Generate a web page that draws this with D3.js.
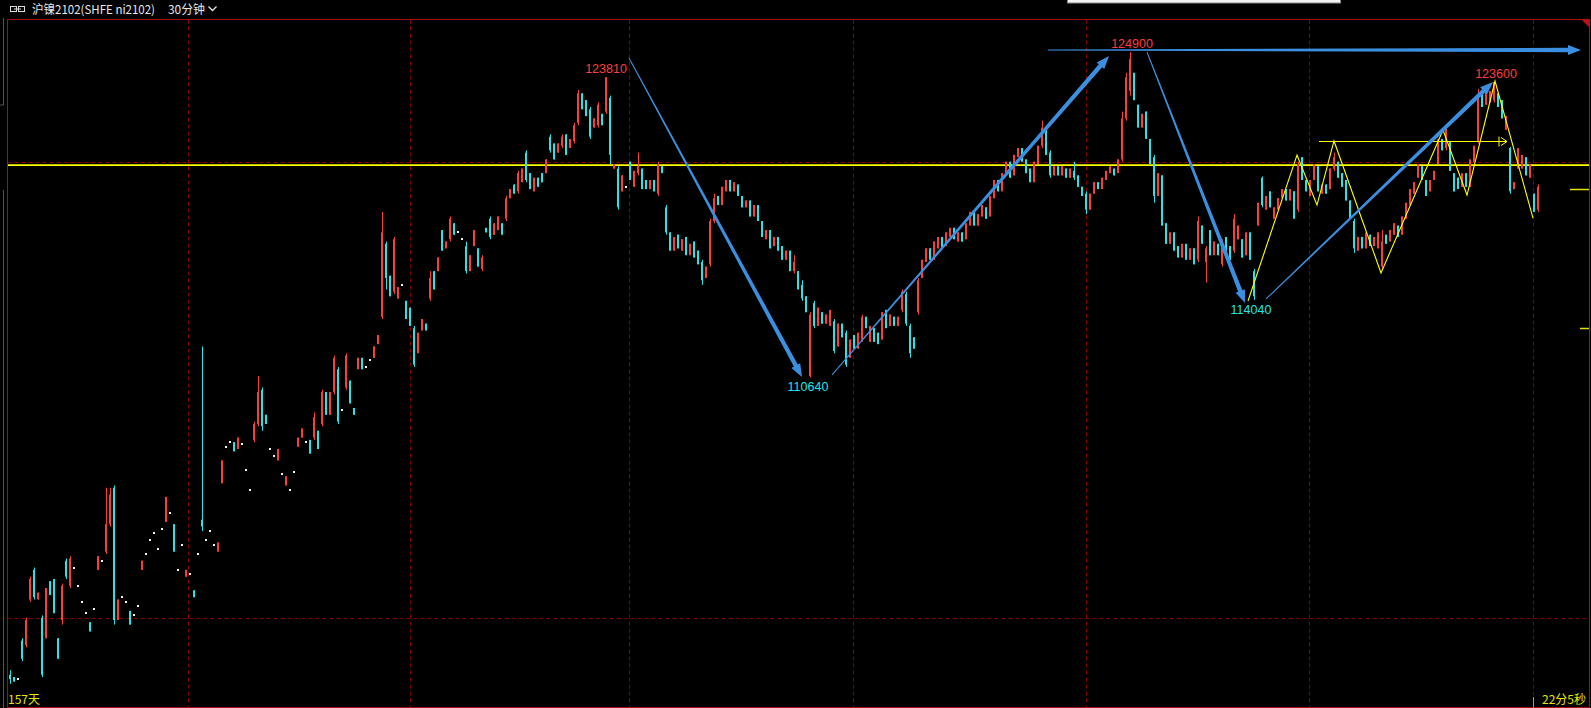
<!DOCTYPE html>
<html><head><meta charset="utf-8">
<script src="https://cdn.jsdelivr.net/npm/d3@7"></script>
<style>html,body{margin:0;padding:0;background:#000;overflow:hidden}</style>
</head><body><svg id="c" width="1591" height="708"></svg>
<script>
// ---------------- data ----------------
const titleText = "沪镍2102(SHFE ni2102)";
const periodText = "30分钟";
const daysText = "157天";
const timerText = "22分5秒";

// each bar: [open, close] or [open, close, high, low]  (30-minute bars, CNY/t)
const bars = [
[97600,97400,97800,97200],[97500,97300],[97400,97400],[99100,98300,99200,98200],[98900,100000,100100,98800],
[100900,101800,101900,100800],[102200,101000,102300,100900],[100900,101200],[100100,97600,100200,97500],[99200,101400],
[101700,101100],[101800,100300],[99200,98300],[100000,101500,101600,99800],[102600,101900,102700,101800],
[101500,102700,102800,101400],[102300,102300],[101500,101500],[100800,100800],[100300,100300],
[99900,99500],[100500,100500],[102200,102800],[102600,102600],[103000,104200,105800,102900],
[104200,105500,105800,104100],[105800,100000,105900,99800],[100000,100900],[101000,101000],[100800,100800],
[100400,99800],[100200,100200],[100600,100600],[102200,102600],[102900,102900],
[103500,103500],[103800,103800],[103100,103100],[104000,104000],[104300,105400],
[104700,104700],[104200,103000],[102200,102200],[103300,103300],[101900,102200],
[102000,102000],[101300,101000],[102900,102900],[104400,104100,112000,103900],[103500,103500],
[103900,103900],[103300,103300],[103000,103400],[106000,107000],[107600,107600],
[107800,107800],[107800,107400],[107500,108000],[107700,107700],[106600,106600],
[105700,105700],[107900,108600,108700,107800],[108600,110000,110700,108500],[110100,108500,110200,108300],[109000,108600],
[107500,107500],[107200,107200],[107000,107500],[106400,106400],[105900,106300],
[105700,105700],[106500,106500],[107600,108000],[108000,108400],[107800,107800],
[107900,107300],[108000,108900,109100,107900],[108300,107500],[108600,110000,110100,108500],[110000,109000],
[109000,110000],[110000,111500,111600,109900],[111000,108700,111100,108600],[109200,109200],[110200,111600,111700,110100],
[110500,109500],[109300,109000],[111000,111500],[111500,111000],[111100,111100],
[111400,111400],[111500,112000],[112100,112500],[113300,117000,117900,113200],[116500,115000,116600,114500],
[115100,114200],[114400,116700,116800,114300],[114100,114600],[114700,114700],[114000,113200],
[113700,112900],[112800,111200,112900,111100],[111700,112600],[112700,113200],[113000,112700],
[114100,115000,115300,114000],[115300,114500],[115300,115900],[117100,116200],[116300,116600],
[116700,117600,117700,116600],[117400,116900],[117000,117000],[116700,116700],[116400,115300,116600,115200],
[115300,116000],[116400,117100],[116300,115500],[115400,115900,116000,115300],[117200,117000],
[117600,116800,117700,116700],[116900,117400],[117100,117700],[117400,116900],[117600,118500,118600,117500],
[118500,118900],[119100,118700],[118800,119600,119700,118700],[119200,119800],[120500,119300,120600,119200],
[119600,118900],[118800,119400],[119400,119000],[119600,119200],[119600,120200],
[121200,120600,121300,120500],[120900,120200],[120500,120900],[120800,121200,121300,120700],[121300,120400],
[120700,121100],[121000,121700,121800,120900],[121800,123100,123250,121700],[123100,122400],[122800,122100],
[122400,121200,122500,121100],[121600,122000],[121700,122600,122700,121600],[122200,121700],[122300,123800,123810,122200],
[122900,120400,123000,120000],[119800,120000],[119800,118100,119900,118000],[118800,119500],[119000,119000],
[120100,119300],[119000,119700],[119600,119900,120500,119500],[119800,118900],[119300,118900],
[118900,119300],[119300,118800],[118700,120000,120100,118600],[119900,119600],[118100,117000,118200,116900],
[117000,116200],[116200,116800],[116900,116300],[116200,116700],[116800,116000],
[116000,116500],[116600,115900],[116200,115600],[115700,114900,115800,114700],[115000,115500],
[115600,117500,117600,115500],[117500,118500,118700,117400],[118600,118200],[118200,119000],[118800,119300],
[119300,118800],[118800,119200],[119100,118600],[118600,118100],[118100,118400],
[118400,117700],[117700,118200],[118200,117500],[117500,116800],[116700,117100],
[117100,116300],[116400,116800],[116800,116200],[116400,115800],[115800,116200],
[116200,115300],[115300,115700,116000,115200],[115300,114500],[114700,114100,114900,114000],[114200,113500],
[110700,113400,113500,110640],[113900,112900,114000,112800],[112900,113700],[113500,113000],[113000,113400],
[112900,113600],[113100,111800,113200,111700],[112000,113000],[113000,112400],[112600,111200,112700,111100],
[111500,112300],[112500,111900],[111900,112600],[112300,113300,113400,112200],[113300,112800],
[112200,112900],[112800,112200],[112600,112100],[112300,113500],[113600,112800],
[112900,113400],[113300,112900],[112900,113300],[113600,114400,114500,113500],[114300,113000,114400,112900],
[112900,111700,113000,111500],[112400,111900],[113500,114900,115000,113400],[115000,115800],[115700,116300],
[116300,115800],[115800,116600],[116300,116800],[116800,116300],[116400,117000],
[116800,117200],[117200,116700],[116600,117000],[117000,116600],[116700,117400],
[117300,117900],[117900,117300],[117300,117800],[117700,118200],[118100,117600],
[117700,118600],[118500,119300],[119300,118800],[118800,119600],[119500,120100],
[120100,119400],[119500,120400],[120300,120700],[120700,120100],[120200,119600],
[119800,119200],[119200,120100],[120000,120800],[120800,121600,121900,120700],[121500,120400],
[120500,119500,120600,119400],[119500,119900],[119900,119500],[119500,119900],[119800,119400],
[119400,119800],[119700,119400,120100,119300],[119500,119000],[119000,118600],[118700,118000,118800,117800],
[118000,118700],[118700,119200],[119200,118900],[118900,119400],[119300,119700],
[119600,119900],[119800,119500],[119600,120200],[120200,122000,122300,120100],[122000,123800,124000,121900],
[123200,124600,124900,123000],[124000,122800],[122600,121600],[121600,122200],[122300,121100],
[121100,120000],[120300,118600,120400,118300],[118600,119600],[119500,117300],[117400,116500],
[116500,117000],[117000,116200],[116400,115900],[115900,116500],[116500,115800],
[115800,116300],[116300,115600],[115800,117500,117700,115700],[117300,116500],[115700,116300,116400,114800],
[117100,116000],[116000,116600],[116500,116000],[115600,116600,116700,115500],[116800,116100],
[116400,115800],[116200,117600,117800,116100],[116700,117300],[116700,115900],[116000,117000],
[117000,115800],[115300,114200,115400,114040],[117300,118300],[119400,118200,119450,118100],[118000,118600],
[118800,118100],[117600,118100],[118000,118500],[118500,118900],[118900,118400],
[118400,118900],[118800,117600],[118000,120000,120100,117900],[120300,119300],[119300,118800],
[118600,119300],[119300,120000],[119900,118800],[118700,119100],[119100,118700],
[118900,119800],[119800,120300,120500,119700],[120100,119400],[119600,119000],[119300,118400],
[118400,117600],[117500,116300,117600,116100],[116200,116800],[116800,116300],[116300,117000],
[116900,116400],[116400,116800],[116300,117000],[115500,116600,117100,115400],[116900,116500],
[116600,117100],[116900,117400],[117300,116800],[116900,117700],[117600,118300],
[118200,118900],[118700,119200],[119400,120000],[119900,119300],[119300,118600],
[118800,119300],[119300,119700],[120000,121100],[121100,120600],[120700,121600,121700,120600],
[121000,119700],[119600,118800],[119400,118900],[119000,119600],[119600,119000],
[119000,120200],[120100,120800],[121000,123000,123300,120900],[123100,122500],[122600,123200],
[122700,123200],[122800,123600,123600,122700],[123100,122500],[122800,122000],[121500,122100],
[120700,118800,120750,118700],[118900,119200],[119800,120700],[119800,120400],[120300,119500],
[119400,120000],[118700,117900],[118000,119000,119100,117900]
];

const gridPrices = [100000, 120000];
const gridBars = [44.5, 100, 154.75, 210.75, 269, 324.75, 380.75];
const alertPrice = 119950;
const sideMarks = [118900, 112810];

const extremeLabels = [
  {i: 149, p: 123810, text: "123810", kind: "high"},
  {i: 280.5, p: 124900, text: "124900", kind: "high"},
  {i: 371.5, p: 123600, text: "123600", kind: "high"},
  {i: 199.5, p: 110640, text: "110640", kind: "low"},
  {i: 310.25, p: 114040, text: "114040", kind: "low"}
];

// trend arrows: [bar index, price]
const arrows = [
  {from: [154.75, 124650], to: [198, 110660]},
  {from: [205.5, 110750], to: [274.75, 124740]},
  {from: [259.5, 125000], to: [392.75, 125000]},
  {from: [284.25, 124910], to: [308.75, 113900]},
  {from: [314, 114080], to: [370.75, 123600]}
];

const zigzag = [[309.5,113990],[321.75,120390],[326.75,118200],[331,121010],[342.75,115220],
  [358.25,121490],[364.25,118640],[371.25,123640],[380.75,117630]];
const flatLine = {from: [327.25, 121010], to: [374.25, 121010]};

// ---------------- drawing ----------------
const svg = d3.select("#c");
const W = 1591, H = 708;
const L = 7.5, T = 19.5, R = 1589.5, B = 707.5;
const RED = "#ff3c3c", CYAN = "#1ee8e8", GRID = "#8a0000", BORDER = "#a81010";
const BLUE = "#3b8fe0", YEL = "#ffff00";

svg.append("rect").attr("width", W).attr("height", H).attr("fill", "#000");

const x = d3.scaleLinear().domain([0, bars.length - 1]).range([10, 1538]);
const y = d3.scaleLinear().domain([100000, 120000]).range([620, 164]);

// left gray panel edge
svg.append("path").attr("d", "M3.5,18V105H0M3.5,190V708").attr("stroke", "#555").attr("fill", "none");

// grid
const g = svg.append("g");
g.selectAll(".hg").data(gridPrices).join("line")
  .attr("x1", L).attr("x2", R)
  .attr("y1", d => Math.round(y(d)) - 1.5).attr("y2", d => Math.round(y(d)) - 1.5)
  .attr("stroke", GRID).attr("stroke-dasharray", "4,3");
g.selectAll(".vg").data(gridBars).join("line")
  .attr("x1", d => Math.round(x(d)) + 0.5).attr("x2", d => Math.round(x(d)) + 0.5)
  .attr("y1", T).attr("y2", B)
  .attr("stroke", GRID).attr("stroke-dasharray", "4,3");

// alert line
svg.append("line").attr("x1", L).attr("x2", R)
  .attr("y1", y(alertPrice)).attr("y2", y(alertPrice))
  .attr("stroke", YEL).attr("stroke-width", 1.6);

// candles
const cg = svg.append("g");
bars.forEach((b, i) => {
  const [o, c] = b;
  const h = b.length > 2 ? b[2] : Math.max(o, c);
  const l = b.length > 3 ? b[3] : Math.min(o, c);
  const xc = Math.round(x(i));
  if (o === c) {
    if (h !== l) {
      cg.append("rect").attr("x", xc).attr("y", y(h)).attr("width", 1)
        .attr("height", Math.max(1, y(l) - y(h))).attr("fill", "#ddd");
    }
    cg.append("rect").attr("x", xc - 1).attr("y", Math.round(y(o)) - 1)
      .attr("width", 2).attr("height", 2).attr("fill", "#f0f0f0");
    return;
  }
  const col = c > o ? RED : CYAN;
  cg.append("rect").attr("x", xc).attr("y", y(h)).attr("width", 1)
    .attr("height", Math.max(1, y(l) - y(h))).attr("fill", col);
  const top = y(Math.max(o, c)), bot = y(Math.min(o, c));
  cg.append("rect").attr("x", xc - 1).attr("y", top).attr("width", 2)
    .attr("height", Math.max(1, bot - top)).attr("fill", col);
});

// yellow zigzag
const line = d3.line().x(d => x(d[0])).y(d => y(d[1]));
svg.append("path").attr("d", line(zigzag)).attr("fill", "none")
  .attr("stroke", YEL).attr("stroke-width", 1.1);
// flat yellow line with chevron
{
  const x1 = x(flatLine.from[0]), x2 = x(flatLine.to[0]), yy = Math.round(y(flatLine.from[1])) + 0.5;
  svg.append("line").attr("x1", x1).attr("x2", x2).attr("y1", yy).attr("y2", yy)
    .attr("stroke", YEL).attr("stroke-width", 1);
  svg.append("path").attr("d", `M${x2 - 6},${yy - 4}L${x2},${yy}L${x2 - 6},${yy + 4}M${x2 - 8},${yy - 5}V${yy + 5}`)
    .attr("stroke", YEL).attr("fill", "none").attr("stroke-width", 1);
}

// tapered blue arrows
function arrowPoly(x1, y1, x2, y2, w0, w1, hl, hw) {
  const dx = x2 - x1, dy = y2 - y1, len = Math.hypot(dx, dy);
  const ux = dx / len, uy = dy / len, nx = -uy, ny = ux;
  const bx = x2 - ux * hl, by = y2 - uy * hl;
  const p = (px, py, w) => [px + nx * w / 2, py + ny * w / 2];
  const q = (px, py, w) => [px - nx * w / 2, py - ny * w / 2];
  return [p(x1, y1, w0), p(bx, by, w1), p(bx, by, hw), [x2, y2], q(bx, by, hw), q(bx, by, w1), q(x1, y1, w0)];
}
svg.selectAll(".arrow").data(arrows).join("polygon")
  .attr("points", d => arrowPoly(x(d.from[0]), y(d.from[1]), x(d.to[0]), y(d.to[1]), 1, 4.5, 13, 10).map(p => p.join(",")).join(" "))
  .attr("fill", BLUE);

// extreme labels
svg.selectAll(".lab").data(extremeLabels).join("text")
  .attr("x", d => x(d.i))
  .attr("y", d => d.kind === "high" ? y(d.p) - 4 : y(d.p) + 14)
  .attr("text-anchor", "middle")
  .attr("font-family", "Liberation Sans, Arial, sans-serif").attr("font-size", 12.5)
  .attr("fill", d => d.kind === "high" ? RED : CYAN)
  .text(d => d.text);

// right side markers
svg.selectAll(".sm").data(sideMarks).join("line")
  .attr("x1", (d, i) => i === 0 ? 1570 : 1580).attr("x2", R)
  .attr("y1", d => Math.round(y(d)) + 0.5).attr("y2", d => Math.round(y(d)) + 0.5)
  .attr("stroke", "#e0e000").attr("stroke-width", 1.5);

// borders
svg.append("path").attr("d", `M${L},${B}V${T}H${R}V${B}H${L}`)
  .attr("stroke", BORDER).attr("fill", "none");
svg.append("polygon").attr("points", `${R - 8},${T} ${R},${T} ${R},${T + 8}`).attr("fill", "#c01010");
svg.append("line").attr("x1", Math.round(x(gridBars[6])) + 0.5).attr("x2", Math.round(x(gridBars[6])) + 0.5)
  .attr("y1", 697).attr("y2", B).attr("stroke", "#999");

// top white box
svg.append("rect").attr("x", 1067.5).attr("y", -1).attr("width", 273).attr("height", 4)
  .attr("fill", "#f4f4f4").attr("stroke", "#888");

// header
svg.append("rect").attr("x", 10.5).attr("y", 6.5).attr("width", 6).attr("height", 5).attr("fill", "none").attr("stroke", "#ddd");
svg.append("rect").attr("x", 18.5).attr("y", 6.5).attr("width", 6).attr("height", 5).attr("fill", "none").attr("stroke", "#ddd");
svg.append("line").attr("x1", 14).attr("x2", 21).attr("y1", 9).attr("y2", 9).attr("stroke", "#ddd");
svg.append("text").attr("x", 32).attr("y", 13.5)
  .attr("font-family", "Noto Sans CJK SC, sans-serif").attr("font-size", 12)
  .attr("fill", "#e8e8e8").attr("textLength", 123).attr("lengthAdjust", "spacingAndGlyphs").text(titleText);
svg.append("text").attr("x", 168).attr("y", 13.5)
  .attr("font-family", "Noto Sans CJK SC, sans-serif").attr("font-size", 12)
  .attr("fill", "#e8e8e8").attr("textLength", 37).attr("lengthAdjust", "spacingAndGlyphs").text(periodText);
svg.append("path").attr("d", "M208.5,6.5L212.5,10.5L216.5,6.5").attr("stroke", "#e8e8e8").attr("fill", "none").attr("stroke-width", 1.3);

// footer
svg.append("text").attr("x", 8).attr("y", 704)
  .attr("font-family", "Noto Sans CJK SC, sans-serif").attr("font-size", 12)
  .attr("fill", "#e6e600").text(daysText);
svg.append("text").attr("x", 1586).attr("y", 704).attr("text-anchor", "end")
  .attr("font-family", "Noto Sans CJK SC, sans-serif").attr("font-size", 12)
  .attr("fill", "#e6e600").text(timerText);
</script></body></html>
